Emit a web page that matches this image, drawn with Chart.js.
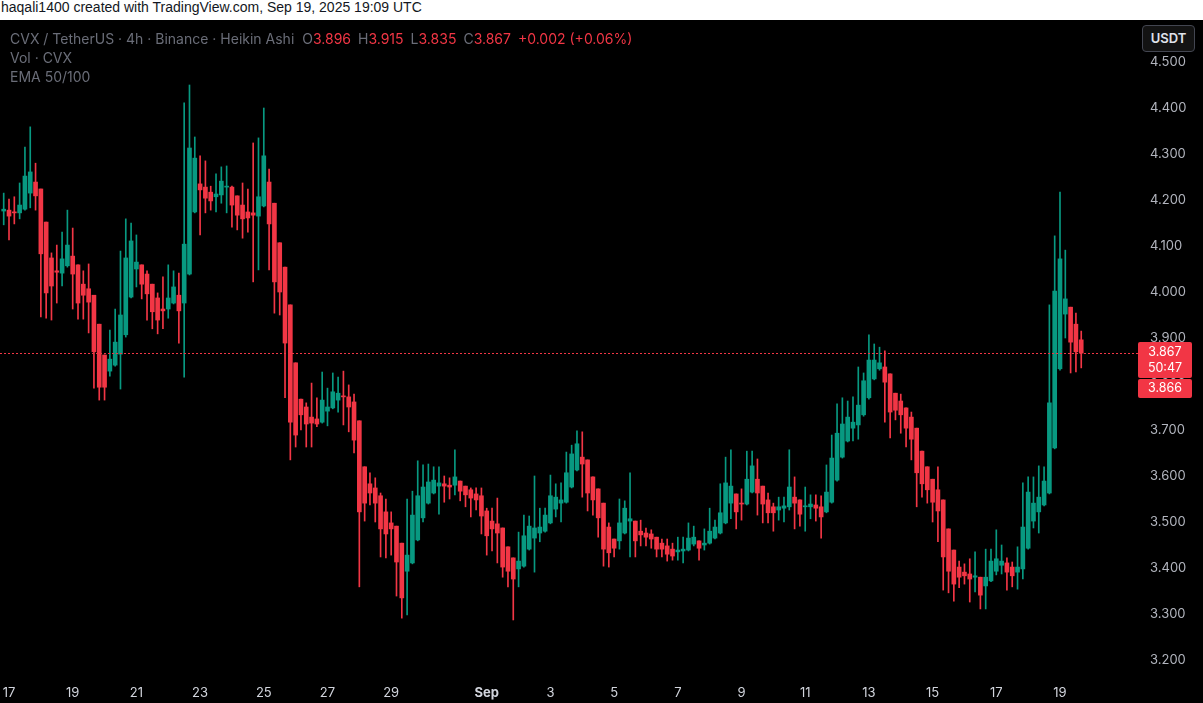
<!DOCTYPE html>
<html lang="en">
<head>
<meta charset="UTF-8">
<title>CVX / TetherUS 4h</title>
<script src="https://cdn.jsdelivr.net/npm/chart.js"></script>
<style>
    body {
        margin: 0;
        background: #000;
        width: 1203px;
        height: 703px;
        overflow: hidden;
        font-family: Inter, "Liberation Sans", sans-serif;
    }
    #header {
        height: 20px;
        background: #fff;
        color: #131722;
        font-family: "Liberation Sans", Arial, sans-serif;
        font-size: 14px;
        line-height: 15px;
        padding-left: 1px;
        box-sizing: border-box;
    }
    #wrap {
        position: relative;
        width: 1203px;
        height: 683px;
    }
    #legend {
        position: absolute;
        left: 10px;
        top: 9px;
        font-size: 14px;
        line-height: 19px;
        color: #6a6d78;
    }
    #legend .v { color: #f23645; margin-right: 7px; }
    #legend .k { margin-left: 4px; }
    #usdt {
        position: absolute;
        left: 1142px;
        top: 5px;
        width: 53px;
        height: 27px;
        box-sizing: border-box;
        border: 1px solid #434651;
        border-radius: 4px;
        background: #131313;
        color: #e0e3eb;
        font-size: 13px;
        font-weight: 600;
        line-height: 25px;
        text-align: center;
    }
</style>
</head>
<body>
<div id="header">haqali1400 created with TradingView.com, Sep 19, 2025 19:09 UTC</div>
<div id="wrap">
    <canvas id="chart" width="1203" height="683"></canvas>
    <div id="legend">
        <div>CVX / TetherUS · 4h · Binance · Heikin Ashi <span class="k">O</span><span class="v">3.896</span><span>H</span><span class="v">3.915</span><span>L</span><span class="v">3.835</span><span>C</span><span class="v">3.867</span><span class="v">+0.002 (+0.06%)</span></div>
        <div>Vol · CVX</div>
        <div>EMA 50/100</div>
    </div>
    <div id="usdt">USDT</div>
</div>

<script>
    // Heikin Ashi 4h candles, Aug 16 20:00 -> Sep 19 16:00 UTC
    const open = [
        4.176,4.178,4.174,4.172,4.180,4.215,4.239,4.224,4.152,4.074,
        4.046,4.041,4.057,4.078,4.059,4.017,4.007,3.993,3.930,3.863,
        3.828,3.841,3.865,3.907,3.989,4.050,4.059,4.039,4.017,3.987,
        3.963,3.963,3.976,3.993,3.976,4.039,4.174,4.235,4.228,4.217,
        4.207,4.211,4.228,4.228,4.209,4.189,4.174,4.172,4.165,4.187,
        4.239,4.193,4.107,4.054,3.972,3.846,3.767,3.750,3.728,3.724,
        3.717,3.741,3.748,3.765,3.774,3.772,3.761,3.720,3.620,3.583,
        3.574,3.557,3.522,3.498,3.491,3.454,3.393,3.411,3.461,3.509,
        3.541,3.563,3.578,3.583,3.580,3.580,3.589,3.578,3.570,3.561,
        3.557,3.524,3.502,3.496,3.487,3.446,3.422,3.398,3.404,3.441,
        3.465,3.476,3.480,3.498,3.528,3.541,3.543,3.576,3.613,3.641,
        3.635,3.598,3.572,3.541,3.489,3.463,3.459,3.476,3.502,3.502,
        3.480,3.476,3.474,3.467,3.454,3.448,3.441,3.435,3.437,3.439,
        3.452,3.459,3.450,3.454,3.465,3.476,3.498,3.541,3.561,3.541,
        3.539,3.565,3.593,3.578,3.548,3.533,3.526,3.530,3.533,3.554,
        3.548,3.533,3.533,3.537,3.533,3.522,3.543,3.591,3.641,3.676,
        3.704,3.711,3.733,3.770,3.811,3.833,3.837,3.822,3.780,3.763,
        3.748,3.728,3.704,3.654,3.620,3.593,3.570,3.548,3.485,3.439,
        3.402,3.391,3.387,3.380,3.380,3.361,3.372,3.393,3.406,3.411,
        3.402,3.391,3.398,3.443,3.502,3.522,3.537,3.563,3.661,3.833,
        3.952,3.967,3.930,3.896
    ];
    const high = [
        4.215,4.202,4.207,4.237,4.315,4.359,4.280,4.224,4.152,4.085,
        4.102,4.130,4.178,4.139,4.059,4.046,4.061,3.993,3.930,3.863,
        3.917,3.963,4.089,4.159,4.150,4.124,4.059,4.046,4.017,3.998,
        4.033,4.059,4.046,4.041,4.411,4.450,4.337,4.296,4.285,4.230,
        4.257,4.272,4.274,4.230,4.209,4.237,4.224,4.324,4.335,4.400,
        4.267,4.193,4.107,4.054,3.972,3.846,3.767,3.759,3.802,3.770,
        3.826,3.791,3.824,3.815,3.828,3.798,3.778,3.720,3.620,3.607,
        3.596,3.563,3.550,3.522,3.491,3.454,3.550,3.567,3.633,3.624,
        3.626,3.620,3.620,3.600,3.596,3.657,3.589,3.578,3.574,3.574,
        3.574,3.530,3.530,3.552,3.487,3.446,3.422,3.478,3.515,3.513,
        3.600,3.530,3.530,3.602,3.583,3.585,3.652,3.667,3.698,3.696,
        3.635,3.598,3.572,3.541,3.498,3.463,3.550,3.546,3.607,3.502,
        3.504,3.487,3.483,3.467,3.463,3.463,3.454,3.467,3.467,3.498,
        3.491,3.459,3.485,3.530,3.504,3.583,3.641,3.657,3.561,3.572,
        3.654,3.654,3.637,3.578,3.563,3.541,3.554,3.554,3.657,3.598,
        3.548,3.576,3.559,3.559,3.557,3.624,3.689,3.757,3.770,3.763,
        3.772,3.837,3.824,3.907,3.887,3.880,3.872,3.822,3.780,3.778,
        3.748,3.739,3.704,3.654,3.620,3.593,3.620,3.548,3.485,3.439,
        3.415,3.409,3.420,3.435,3.380,3.441,3.441,3.483,3.450,3.422,
        3.413,3.446,3.585,3.598,3.598,3.622,3.620,3.972,4.122,4.217,
        4.091,3.967,3.954,3.915
    ];
    const low = [
        4.146,4.113,4.148,4.159,4.178,4.183,4.178,3.946,3.943,3.939,
        3.976,4.013,4.054,3.963,3.941,3.941,3.911,3.791,3.765,3.765,
        3.817,3.839,3.789,3.902,3.987,4.011,3.985,3.939,3.920,3.909,
        3.920,3.943,3.974,3.889,3.815,4.037,4.172,4.124,4.172,4.178,
        4.174,4.193,4.172,4.141,4.135,4.117,4.130,4.022,4.048,4.185,
        4.048,3.954,3.950,3.770,3.635,3.663,3.700,3.663,3.663,3.707,
        3.715,3.709,3.746,3.739,3.711,3.696,3.650,3.359,3.502,3.537,
        3.500,3.424,3.422,3.428,3.339,3.291,3.298,3.409,3.459,3.500,
        3.539,3.561,3.517,3.543,3.550,3.559,3.546,3.533,3.511,3.526,
        3.474,3.428,3.437,3.411,3.380,3.359,3.287,3.359,3.402,3.439,
        3.391,3.457,3.478,3.496,3.511,3.500,3.541,3.574,3.611,3.554,
        3.524,3.515,3.467,3.404,3.402,3.424,3.441,3.474,3.424,3.424,
        3.448,3.448,3.443,3.424,3.424,3.415,3.417,3.417,3.411,3.437,
        3.448,3.417,3.439,3.452,3.463,3.474,3.496,3.507,3.485,3.504,
        3.537,3.563,3.515,3.498,3.498,3.480,3.504,3.500,3.526,3.485,
        3.491,3.480,3.507,3.502,3.465,3.520,3.541,3.589,3.639,3.674,
        3.676,3.680,3.730,3.767,3.809,3.830,3.717,3.683,3.722,3.693,
        3.663,3.635,3.533,3.554,3.541,3.500,3.457,3.352,3.346,3.328,
        3.357,3.365,3.326,3.348,3.311,3.311,3.370,3.385,3.387,3.352,
        3.359,3.354,3.376,3.441,3.487,3.476,3.535,3.561,3.659,3.830,
        3.900,3.824,3.826,3.835
    ];
    const close = [
        4.180,4.165,4.172,4.189,4.252,4.261,4.209,4.083,3.998,4.013,
        4.043,4.072,4.102,4.039,3.976,3.993,3.978,3.870,3.793,3.793,
        3.854,3.891,3.950,4.074,4.111,4.065,4.017,3.996,3.957,3.939,
        3.959,3.987,4.011,3.959,4.104,4.313,4.291,4.222,4.204,4.198,
        4.213,4.241,4.230,4.189,4.167,4.159,4.161,4.167,4.207,4.296,
        4.148,4.022,4.000,3.889,3.717,3.689,3.733,3.713,3.715,3.713,
        3.765,3.750,3.783,3.780,3.772,3.750,3.678,3.522,3.541,3.563,
        3.541,3.485,3.474,3.485,3.413,3.335,3.428,3.515,3.557,3.576,
        3.587,3.591,3.585,3.578,3.576,3.598,3.567,3.559,3.552,3.548,
        3.513,3.470,3.485,3.476,3.402,3.393,3.376,3.415,3.470,3.491,
        3.487,3.489,3.515,3.557,3.554,3.548,3.607,3.648,3.670,3.626,
        3.563,3.548,3.509,3.441,3.433,3.443,3.498,3.530,3.507,3.459,
        3.472,3.467,3.463,3.441,3.441,3.430,3.426,3.439,3.441,3.465,
        3.467,3.443,3.454,3.480,3.489,3.520,3.585,3.578,3.522,3.539,
        3.593,3.622,3.563,3.539,3.520,3.520,3.533,3.535,3.576,3.541,
        3.517,3.535,3.539,3.530,3.511,3.565,3.639,3.693,3.713,3.728,
        3.717,3.754,3.807,3.852,3.852,3.846,3.804,3.739,3.743,3.733,
        3.704,3.680,3.607,3.583,3.570,3.543,3.524,3.424,3.393,3.365,
        3.380,3.383,3.376,3.383,3.341,3.380,3.415,3.420,3.415,3.391,
        3.383,3.402,3.489,3.565,3.541,3.554,3.589,3.759,4.002,4.072,
        3.985,3.891,3.870,3.867
    ];

    // candle index of each labelled midnight
    const xTickIdx = [1, 13, 25, 37, 49, 61, 73, 91, 103, 115, 127, 139, 151, 163, 175, 187, 199];
    const xTickText = ['17', '19', '21', '23', '25', '27', '29', 'Sep', '3', '5', '7', '9', '11', '13', '15', '17', '19'];
    const yTickVals = [3.2, 3.3, 3.4, 3.5, 3.6, 3.7, 3.8, 3.9, 4.0, 4.1, 4.2, 4.3, 4.4, 4.5];

    const lastPrice = 3.867;
    const countdown = '50:47';
    const bidPrice = 3.866;

    const upColor = '#089981';
    const downColor = '#f23645';

    const idx = open.map((_, i) => i);
    const colors = idx.map(i => close[i] >= open[i] ? upColor : downColor);

    // tick labels drawn from the scales, so chart.js adds no label padding
    const axisLabels = {
        id: 'axisLabels',
        afterDraw(chart) {
            const { ctx, chartArea, scales: { x, y } } = chart;
            ctx.save();
            ctx.textBaseline = 'middle';
            ctx.textAlign = 'center';
            ctx.fillStyle = '#d1d4dc';
            xTickIdx.forEach((v, k) => {
                ctx.font = (xTickText[k] === 'Sep' ? 'bold ' : '') + '13px Inter, sans-serif';
                ctx.fillText(xTickText[k], x.getPixelForValue(v), chartArea.bottom + 13);
            });
            ctx.textAlign = 'left';
            ctx.fillStyle = '#b2b5be';
            ctx.font = '13px Inter, sans-serif';
            yTickVals.forEach(v => {
                ctx.fillText(v.toFixed(3), chartArea.right + 15, y.getPixelForValue(v));
            });
            ctx.restore();
        }
    };

    const priceLine = {
        id: 'priceLine',
        afterDraw(chart) {
            const { ctx, chartArea, scales: { y } } = chart;
            const py = Math.round(y.getPixelForValue(lastPrice)) + 0.5;
            ctx.save();
            ctx.strokeStyle = downColor;
            ctx.lineWidth = 1;
            ctx.setLineDash([2, 2]);
            ctx.beginPath();
            ctx.moveTo(chartArea.left, py);
            ctx.lineTo(chartArea.right + 3, py);
            ctx.stroke();
            ctx.setLineDash([]);

            const bx = chartArea.right + 3, bw = 54;
            ctx.fillStyle = downColor;
            ctx.beginPath();
            ctx.roundRect(bx, py - 11.5, bw, 36, 2);
            ctx.fill();
            ctx.beginPath();
            ctx.roundRect(bx, py + 25.5, bw, 19, 2);
            ctx.fill();

            ctx.fillStyle = '#fff';
            ctx.font = '12.5px Inter, sans-serif';
            ctx.textAlign = 'center';
            ctx.textBaseline = 'middle';
            ctx.fillText(lastPrice.toFixed(3), bx + bw / 2, py - 1);
            ctx.fillText(countdown, bx + bw / 2, py + 15);
            ctx.fillText(bidPrice.toFixed(3), bx + bw / 2, py + 35);
            ctx.restore();
        }
    };

    new Chart(document.getElementById('chart'), {
        type: 'bar',
        data: {
            datasets: [
                {
                    label: 'body',
                    data: idx.map(i => ({ x: i, y: [Math.min(open[i], close[i]), Math.max(open[i], close[i])] })),
                    backgroundColor: colors,
                    barThickness: 4,
                    minBarLength: 1,
                    grouped: false,
                    order: 0
                },
                {
                    label: 'wick',
                    data: idx.map(i => ({ x: i, y: [low[i], high[i]] })),
                    backgroundColor: colors,
                    barThickness: 1,
                    grouped: false,
                    order: 1
                }
            ]
        },
        options: {
            responsive: false,
            animation: false,
            layout: { padding: 0 },
            plugins: {
                legend: { display: false },
                tooltip: { enabled: false }
            },
            scales: {
                x: {
                    type: 'linear',
                    offset: false,
                    min: -0.697,
                    max: 213.13,
                    grid: { display: false, drawTicks: false },
                    border: { display: false },
                    ticks: { display: false },
                    afterFit: s => { s.height = 23; }
                },
                y: {
                    position: 'right',
                    min: 3.1565,
                    max: 4.5913,
                    grid: { display: false, drawTicks: false },
                    border: { display: false },
                    ticks: { display: false },
                    afterFit: s => { s.width = 68; }
                }
            }
        },
        plugins: [axisLabels, priceLine]
    });
</script>
</body>
</html>
